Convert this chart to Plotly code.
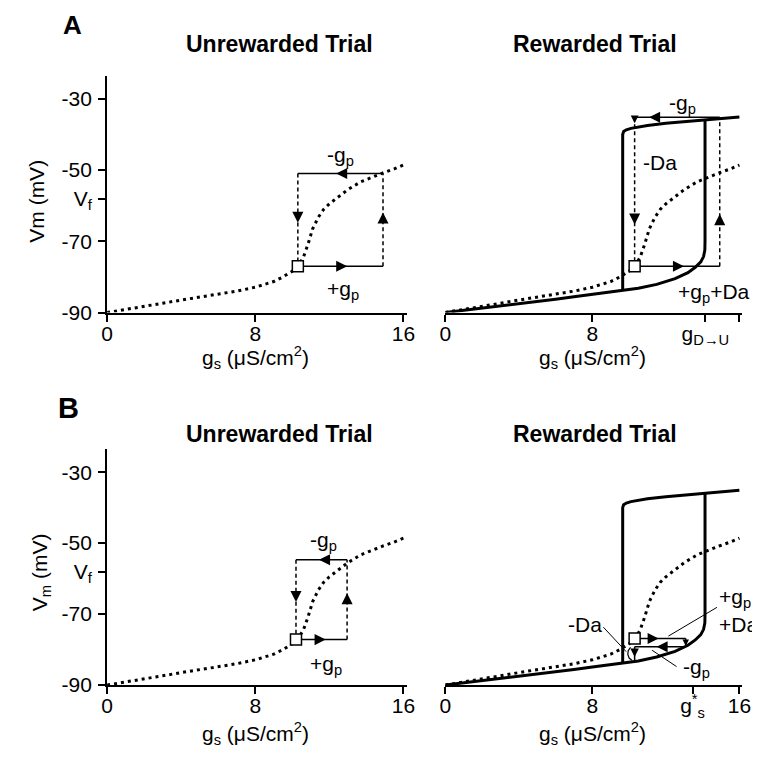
import plotly.graph_objects as go

W, H = 760, 757
FONT = "Liberation Sans, Arial, Helvetica, sans-serif"

# ---------------- data ----------------
# dotted steady-state curve (no dopamine)
gs_base = [0, 1, 2, 3, 4, 5, 6, 7, 8, 9, 9.5, 10, 10.3, 10.6, 10.85, 11.1, 11.4,
           11.7, 12.0, 12.5, 13, 13.7, 14.3, 14.9, 15.5, 16]
vm_base = [-90, -89.2, -88.3, -87.4, -86.5, -85.7, -84.9, -84.0, -82.9, -81.3, -80.0,
           -78.4, -77, -74.5, -70.8, -66.5, -63.3, -61, -59.5, -57.5, -55.5, -53.3,
           -52, -50.8, -49.7, -48.6]

# bistable curve with dopamine: lower branch + jump up
gs_low = [0, 1, 2, 3, 4, 5, 6, 7, 8, 9, 9.65, 10.5, 11.5, 12.5, 13.2, 13.6, 13.9,
          14.05, 14.12, 14.13, 14.13]
vm_low = [-90, -89.4, -88.8, -88.2, -87.6, -87.0, -86.3, -85.6, -84.9, -84.3, -83.9,
          -83.2, -82.1, -80.5, -78.8, -77.3, -75.8, -74.3, -72.5, -70, -35.8]
# jump down + upper branch
gs_up = [9.65, 9.65, 9.7, 9.85, 10.1, 10.5, 11, 12, 13, 14.13, 15, 16]
vm_up = [-83.9, -40.0, -39.2, -38.7, -38.3, -37.9, -37.5, -36.9, -36.4, -35.9, -35.5, -35.1]

# cycles: [A unrewarded, A rewarded, B unrewarded, B rewarded]
cyc_g_rest = [10.3, 10.3, 10.2, 10.3]
cyc_v_rest = [-77, -77, -77.2, -76.9]
cyc_g_peak = [14.9, 14.93, 12.96, 13.08]
cyc_v_peak = [-51, -35.2, -54.7, -79.2]
bfall_v = -83.3           # B rewarded: fall onto lower branch

# y-axis ticks
y_tickvals = [-30, -50, -58, -70, -90]
y_ticktext = ["-30", "-50", "V<sub>f</sub>", "-70", "-90"]
x_tickvals_plain = [0, 8, 16]
x_tickvals_A2 = [0, 8, 14.15, 16]
x_ticktext_A2 = ["0", "8", "g<sub>D→U</sub>", ""]
x_tickvals_B2 = [0, 8, 13.45, 16]
x_ticktext_B2 = ["0", "8", "g<sup>*</sup><sub>s</sub>", "16"]

# ---------------- figure ----------------
fig = go.Figure()
ann = []
FS = 21

def px_x(p):
    return p / W

def px_y(p):
    return 1 - p / H

def line(xs, ys, ax, width=1.5, dash=None):
    fig.add_trace(go.Scatter(x=xs, y=ys, mode="lines", xaxis="x" + ax, yaxis="y" + ax,
                             line=dict(color="black", width=width, dash=dash),
                             hoverinfo="skip", showlegend=False))

def square(x, y, ax):
    fig.add_trace(go.Scatter(x=[x], y=[y], mode="markers", xaxis="x" + ax, yaxis="y" + ax,
                             marker=dict(symbol="square", size=11, color="white",
                                         line=dict(color="black", width=1.5)),
                             hoverinfo="skip", showlegend=False))

def head(ax, x0, y0, x1, y1, f, size=1.7):
    x = x0 + f * (x1 - x0)
    y = y0 + f * (y1 - y0)
    if x1 > x0:
        o = (-6, 0)
    elif x1 < x0:
        o = (6, 0)
    elif y1 > y0:
        o = (0, 6)
    else:
        o = (0, -6)
    ann.append(dict(x=x, y=y, xref="x" + ax, yref="y" + ax, ax=o[0], ay=o[1], text="",
                    showarrow=True, arrowhead=2, arrowsize=size, arrowwidth=1.3,
                    arrowcolor="black", standoff=0))

def text(ax, x, y, s, xanchor="center", size=FS):
    ann.append(dict(x=x, y=y, xref="x" + ax, yref="y" + ax, text=s, showarrow=False,
                    xanchor=xanchor, yanchor="middle",
                    font=dict(size=size, family=FONT, color="black")))

DOT = "3px,4px"
DASH = "4px,3px"

axes_ids = ["", "2", "3", "4"]

for i, a in enumerate(axes_ids):
    g0, v0, g1, v1 = cyc_g_rest[i], cyc_v_rest[i], cyc_g_peak[i], cyc_v_peak[i]
    line(gs_base, vm_base, a, width=3, dash=DOT)
    if i in (1, 3):
        line(gs_low, vm_low, a, width=3)
        line(gs_up, vm_up, a, width=3)
    if i in (0, 1, 2):
        line([g0, g1], [v0, v0], a)
        line([g1, g1], [v0, v1], a, dash=DASH)
        line([g1, g0], [v1, v1], a)
        line([g0, g0], [v1, v0], a, dash=DASH)
        fr = [0.58, 0.58, 0.55, 0.53] if i != 1 else [0.58, 0.35, 0.83, 0.72]
        head(a, g0, v0, g1, v0, fr[0])
        head(a, g1, v0, g1, v1, fr[1])
        head(a, g1, v1, g0, v1, fr[2])
        head(a, g0, v1, g0, v0, fr[3])
        if i == 1:
            head(a, g0, v1, g0, v0, 0.04, size=1.2)
    else:
        line([g0, g1], [v0, v0], a)
        line([g1, g1], [v0, v1], a)
        line([g1, g0], [v1, v1], a)
        line([g0, g0], [v1, bfall_v], a)
        head(a, g0, v0, g1, v0, 0.47)
        head(a, g1, v0, g1, v1, 0.9, size=1.0)
        head(a, g1, v1, g0, v1, 0.57)
        head(a, g0, v1, g0, bfall_v, 0.7, size=1.3)
        # small arc
        line([10.08, 9.95, 9.93, 10.0, 10.15], [-79.4, -80.3, -81.4, -82.4, -83.0], a, width=1.2)
        # leader lines
        line([14.78, 12.14], [-68.1, -76.2], a, width=1)
        line([8.6, 9.84], [-73.7, -80.6], a, width=1)
        line([12.58, 11.25], [-84.8, -80.2], a, width=1)
    square(g0, v0, a)

# labels
text("", 12.6, -46.0, "-g<sub>p</sub>")
text("", 12.75, -83.8, "+g<sub>p</sub>")
text("2", 12.9, -31.5, "-g<sub>p</sub>")
text("2", 11.7, -48.0, "-Da")
text("2", 14.6, -84.4, "+g<sub>p</sub>+Da")
text("3", 11.7, -49.5, "-g<sub>p</sub>")
text("3", 11.8, -84.4, "+g<sub>p</sub>")
text("4", 14.8, -65.6, "+g<sub>p</sub>", xanchor="left")
text("4", 14.8, -72.8, "+Da", xanchor="left")
text("4", 7.6, -73.0, "-Da")
text("4", 13.65, -85.2, "-g<sub>p</sub>")

# titles and axis titles (paper coords)
def ptext(xp, yp, s, size=FS, bold=False, angle=0):
    ann.append(dict(x=px_x(xp), y=px_y(yp), xref="paper", yref="paper",
                    text=("<b>%s</b>" % s) if bold else s, showarrow=False,
                    xanchor="center", yanchor="middle", textangle=angle,
                    font=dict(size=size, family=FONT, color="black")))

ptext(60, 17, "A", size=26, bold=True)
ptext(56, 406, "B", size=29, bold=True)
for yy in (37, 432):
    ptext(271, yy, "Unrewarded Trial", size=23, bold=True)
    ptext(593, yy, "Rewarded Trial", size=23, bold=True)
for yy in (355, 736):
    ptext(246, yy, "g<sub>s</sub> (μS/cm<sup>2</sup>)")
    ptext(590, yy, "g<sub>s</sub> (μS/cm<sup>2</sup>)")
ptext(23, 196, "Vm (mV)", angle=-90)
ptext(27, 572, "V<sub>m</sub> (mV)", angle=-90)

tickfont = dict(size=FS, family=FONT, color="black")
common_x = dict(showline=True, linecolor="black", linewidth=2, ticks="outside", ticklen=7,
                tickwidth=2, tickcolor="black", showgrid=False, zeroline=False,
                tickfont=tickfont, fixedrange=True, ticklabelstandoff=-6)
common_y = dict(showline=True, linecolor="black", linewidth=2, ticks="outside", ticklen=7,
                tickwidth=2, tickcolor="black", showgrid=False, zeroline=False,
                tickfont=tickfont, range=[-90, -23.6], tickvals=y_tickvals,
                ticktext=y_ticktext, fixedrange=True, ticklabelstandoff=2)

dom_xL = [px_x(95), px_x(401)]
dom_xR = [px_x(440), px_x(743)]
dom_yA = [px_y(309), px_y(69)]
dom_yB = [px_y(687), px_y(448)]

fig.update_layout(
    width=W, height=H, margin=dict(l=0, r=0, t=0, b=0),
    paper_bgcolor="white", plot_bgcolor="white", showlegend=False,
    font=dict(family=FONT, color="black"),
    xaxis=dict(common_x, domain=dom_xL, range=[0, 16.2], tickvals=x_tickvals_plain, anchor="y"),
    yaxis=dict(common_y, domain=dom_yA, anchor="x"),
    xaxis2=dict(common_x, domain=dom_xR, range=[0, 16.16], tickvals=x_tickvals_A2,
                ticktext=x_ticktext_A2, anchor="y2"),
    yaxis2=dict(common_y, domain=dom_yA, anchor="x2", visible=False),
    xaxis3=dict(common_x, domain=dom_xL, range=[0, 16.2], tickvals=x_tickvals_plain, anchor="y3"),
    yaxis3=dict(common_y, domain=dom_yB, anchor="x3"),
    xaxis4=dict(common_x, domain=dom_xR, range=[0, 16.16], tickvals=x_tickvals_B2,
                ticktext=x_ticktext_B2, anchor="y4"),
    yaxis4=dict(common_y, domain=dom_yB, anchor="x4", visible=False),
    annotations=ann,
)

fig.write_html("out.html")
